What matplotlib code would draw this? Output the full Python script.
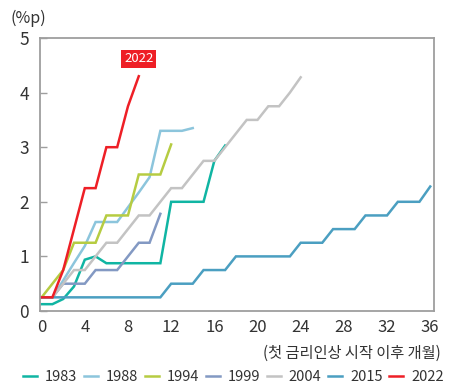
import matplotlib.pyplot as plt

plt.rcParams['font.family'] = ['Noto Sans CJK KR', 'DejaVu Sans']
plt.rcParams['font.weight'] = 'light'

# cumulative rate increase (%p) by month since the first hike
s1983 = [0.125, 0.125, 0.22, 0.45, 0.94, 1.0, 0.875, 0.875, 0.875, 0.875, 0.875, 0.875,
         2.0, 2.0, 2.0, 2.0, 2.75, 3.03]
s1988 = [0.25, 0.25, 0.56, 0.88, 1.19, 1.63, 1.63, 1.63, 1.9, 2.17, 2.45, 3.3, 3.3, 3.3, 3.35]
s1994 = [0.25, 0.5, 0.75, 1.25, 1.25, 1.25, 1.75, 1.75, 1.75, 2.5, 2.5, 2.5, 3.05]
s1999 = [0.25, 0.25, 0.5, 0.5, 0.5, 0.75, 0.75, 0.75, 1.0, 1.25, 1.25, 1.78]
s2004 = [0.25, 0.25, 0.5, 0.75, 0.75, 1.0, 1.25, 1.25, 1.5, 1.75, 1.75, 2.0, 2.25, 2.25,
         2.5, 2.75, 2.75, 3.0, 3.25, 3.5, 3.5, 3.75, 3.75, 4.0, 4.28]
s2015 = [0.25] * 12 + [0.5] * 3 + [0.75] * 3 + [1.0] * 6 + [1.25] * 3 + [1.5] * 3 \
        + [1.75] * 3 + [2.0] * 3 + [2.28]
s2022 = [0.25, 0.25, 0.75, 1.5, 2.25, 2.25, 3.0, 3.0, 3.75, 4.3]

series = [
    ("1983", s1983, "#10b5a3"),
    ("1988", s1988, "#8cc5dc"),
    ("1994", s1994, "#b6cc42"),
    ("1999", s1999, "#8399c3"),
    ("2004", s2004, "#c3c3c3"),
    ("2015", s2015, "#4b9fc1"),
    ("2022", s2022, "#ee1f26"),
]

fig = plt.figure(figsize=(4.56, 3.85), dpi=100)
ax = fig.add_axes([40 / 456, 1 - 311 / 385, 394 / 456, 273 / 385])

for name, vals, color in series:
    ax.plot(range(len(vals)), vals, color=color, lw=1.8, label=name,
            solid_joinstyle='miter')

ax.set_xlim(-0.15, 36.35)
ax.set_ylim(0, 5)
ax.set_xticks(range(0, 37, 4))
ax.set_yticks(range(0, 6))

for sp in ax.spines.values():
    sp.set_color('#9e9e9e')
    sp.set_linewidth(1.3)

ax.tick_params(axis='x', length=0, labelsize=12, colors='#333333', pad=6)
ax.tick_params(axis='y', direction='in', length=5, width=1, color='#9e9e9e',
               labelsize=12.5, labelcolor='#333333', pad=8)

ax.annotate("2022", xy=(9, 4.62), ha='center', va='center', color='white', fontsize=9.5,
            bbox=dict(boxstyle='square,pad=0.2', fc='#ee1f26', ec='none'))

fig.text(28 / 456, 1 - 18 / 385, "(%p)", ha='center', va='center', fontsize=11.5,
         color='#333333')
fig.text(441 / 456, 1 - 353 / 385, "(첫 금리인상 시작 이후 개월)", ha='right', va='center',
         fontsize=11, color='#333333')

fig.legend(loc='center left', bbox_to_anchor=(23 / 456, 1 - 377 / 385), ncol=7,
           frameon=False, borderpad=0, borderaxespad=0,
           handlelength=0.96, handletextpad=0.55, columnspacing=0.45, fontsize=10.5,
           labelcolor='#333333')

fig.savefig("out.png", dpi=100)
